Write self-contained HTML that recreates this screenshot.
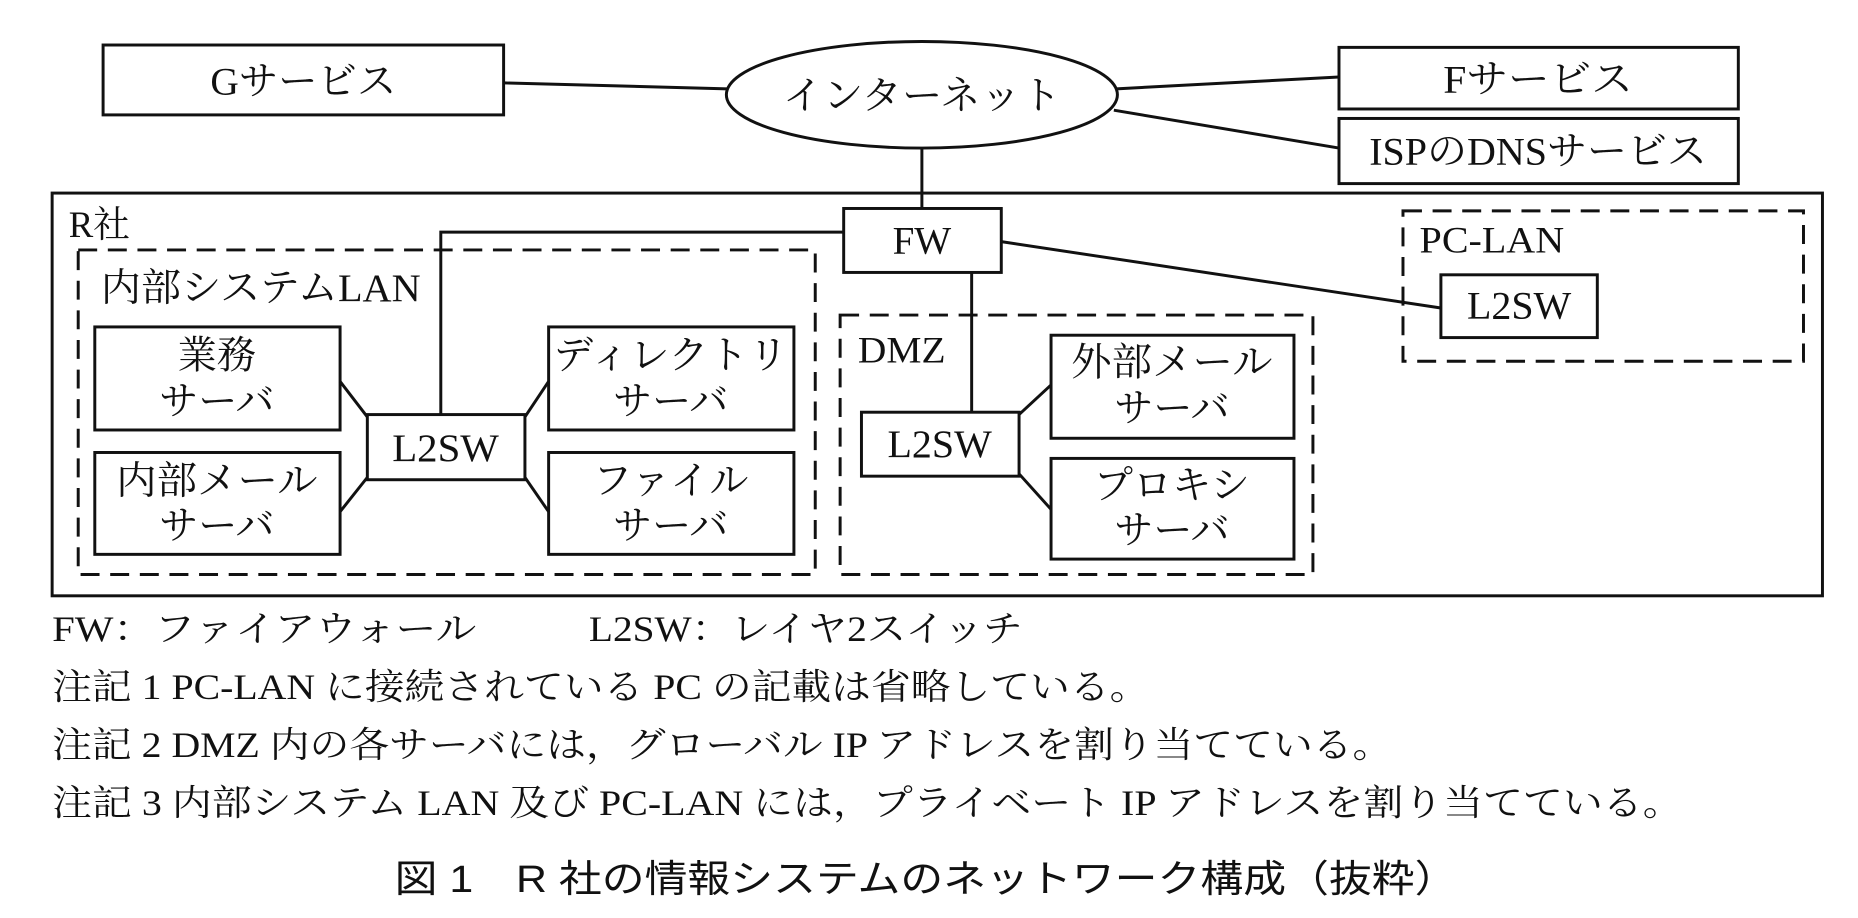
<!DOCTYPE html>
<html><head><meta charset="utf-8"><style>
html,body{margin:0;padding:0;background:#fff}
svg{display:block}
text{font-family:"Liberation Serif","Noto Serif CJK SC","Noto Sans CJK JP",serif;fill:#111}
.c{text-anchor:middle}
</style></head><body>
<svg width="1858" height="918" viewBox="0 0 1568 775" preserveAspectRatio="none" xmlns="http://www.w3.org/2000/svg">
<g fill="none" stroke="#111" stroke-width="2.5">
<rect x="87" y="38" width="338" height="59"/>
<ellipse cx="778" cy="80" rx="165" ry="45"/>
<rect x="1130" y="40" width="337" height="52"/>
<rect x="1130" y="100" width="337" height="55"/>
<line x1="425" y1="70" x2="614" y2="75"/>
<line x1="942" y1="75" x2="1130" y2="65"/>
<line x1="940" y1="93" x2="1130" y2="125"/>
<line x1="778" y1="125" x2="778" y2="176"/>
<rect x="44" y="163" width="1494" height="340"/>
<rect x="712" y="176" width="133" height="54"/>
<polyline points="712,196 372,196 372,350"/>
<rect x="80" y="276" width="207" height="87"/>
<rect x="80" y="382" width="207" height="86"/>
<rect x="310" y="350" width="133" height="55"/>
<rect x="463" y="276" width="207" height="87"/>
<rect x="463" y="382" width="207" height="86"/>
<line x1="287" y1="322" x2="310" y2="352"/>
<line x1="287" y1="432" x2="310" y2="403"/>
<line x1="443" y1="352" x2="463" y2="322"/>
<line x1="443" y1="403" x2="463" y2="432"/>
<line x1="820" y1="230" x2="820" y2="348"/>
<rect x="727" y="348" width="133" height="54"/>
<rect x="887" y="283" width="205" height="87"/>
<rect x="887" y="387" width="205" height="85"/>
<line x1="860" y1="350" x2="887" y2="325"/>
<line x1="860" y1="400" x2="887" y2="430"/>
<rect x="1216" y="232" width="132" height="53"/>
<line x1="845" y1="204" x2="1216" y2="260"/>
<g stroke-dasharray="16,9">
<rect x="66" y="211" width="622" height="274"/>
<rect x="709" y="266" width="399" height="219"/>
<rect x="1184" y="178" width="338" height="127"/>
</g>
</g>
<g font-size="33">
<text x="256" y="80" class="c" textLength="157" lengthAdjust="spacingAndGlyphs">Gサービス</text>
<text x="778" y="92" class="c" textLength="235" lengthAdjust="spacingAndGlyphs">インターネット</text>
<text x="1298" y="78" class="c" textLength="160" lengthAdjust="spacingAndGlyphs">Fサービス</text>
<text x="1298" y="139" class="c" textLength="285" lengthAdjust="spacingAndGlyphs">ISPのDNSサービス</text>
<text x="58" y="200" font-size="31">R社</text>
<text x="778" y="214" class="c">FW</text>
<text x="85" y="254" textLength="270" lengthAdjust="spacingAndGlyphs">内部システムLAN</text>
<text x="183" y="311" class="c">業務</text>
<text x="183" y="350" class="c">サーバ</text>
<text x="183" y="417" class="c" textLength="170" lengthAdjust="spacingAndGlyphs">内部メール</text>
<text x="183" y="455" class="c">サーバ</text>
<text x="376" y="389" class="c" textLength="90" lengthAdjust="spacingAndGlyphs">L2SW</text>
<text x="566" y="311" class="c" textLength="198" lengthAdjust="spacingAndGlyphs">ディレクトリ</text>
<text x="566" y="350" class="c">サーバ</text>
<text x="566" y="417" class="c">ファイル</text>
<text x="566" y="455" class="c">サーバ</text>
<text x="724" y="306" font-size="31" textLength="74" lengthAdjust="spacingAndGlyphs">DMZ</text>
<text x="793" y="386" class="c" textLength="88" lengthAdjust="spacingAndGlyphs">L2SW</text>
<text x="989" y="317" class="c" textLength="170" lengthAdjust="spacingAndGlyphs">外部メール</text>
<text x="989" y="356" class="c">サーバ</text>
<text x="989" y="421" class="c">プロキシ</text>
<text x="989" y="459" class="c">サーバ</text>
<text x="1198" y="213" font-size="31" textLength="122" lengthAdjust="spacingAndGlyphs">PC-LAN</text>
<text x="1282" y="269" class="c" textLength="88" lengthAdjust="spacingAndGlyphs">L2SW</text>
</g>
<g font-size="30">
<text x="44" y="541" textLength="358" lengthAdjust="spacingAndGlyphs">FW：ファイアウォール</text>
<text x="497" y="541" textLength="366" lengthAdjust="spacingAndGlyphs">L2SW：レイヤ2スイッチ</text>
<text x="44" y="590" textLength="926" lengthAdjust="spacingAndGlyphs">注記 1  PC-LAN に接続されている PC の記載は省略している。</text>
<text x="44" y="639" textLength="1131" lengthAdjust="spacingAndGlyphs">注記 2  DMZ 内の各サーバには，グローバル IP アドレスを割り当てている。</text>
<text x="44" y="688" textLength="1376" lengthAdjust="spacingAndGlyphs">注記 3  内部システム LAN 及び PC-LAN には，プライベート IP アドレスを割り当てている。</text>
</g>
<text x="333" y="753" font-size="32" textLength="897" lengthAdjust="spacingAndGlyphs" style="font-family:'Liberation Sans','Noto Sans CJK JP',sans-serif">図 1　R 社の情報システムのネットワーク構成（抜粋）</text>
</svg>
</body></html>
